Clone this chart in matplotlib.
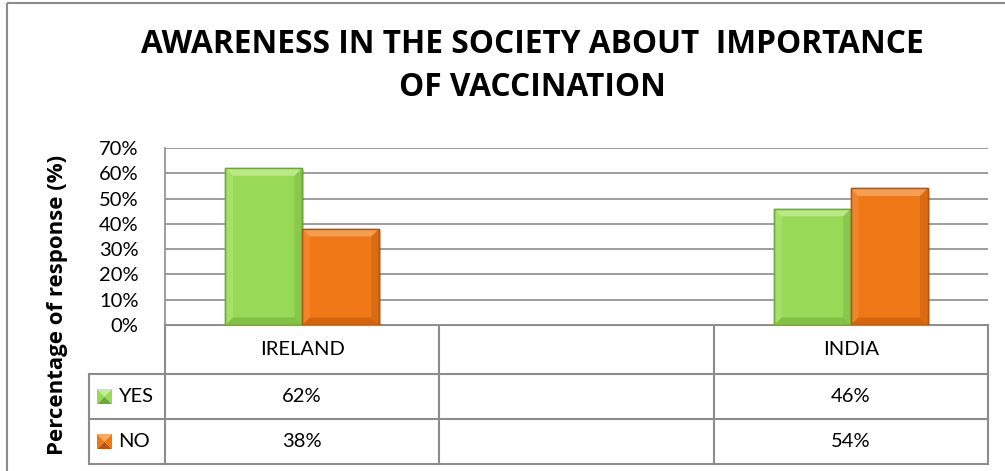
import matplotlib.pyplot as plt
from matplotlib.patches import Rectangle, Polygon
import numpy as np

# data
categories = ['IRELAND', '', 'INDIA']
series = ['YES', 'NO']
yes_vals = [62, None, 46]
no_vals = [38, None, 54]
yticks = [0, 10, 20, 30, 40, 50, 60, 70]
title = 'AWARENESS IN THE SOCIETY ABOUT  IMPORTANCE\nOF VACCINATION'
ylabel = 'Percentage of response (%)'

colors = {'YES': ('#98DA58', '#C4EE94', '#6FA83A'),
          'NO': ('#F07716', '#F8A860', '#B45710')}
grid_col = '#8C8C8C'

W, H = 1005, 471
plt.rcParams['font.family'] = ['Lato', 'DejaVu Sans']
fig = plt.figure(figsize=(W / 100, H / 100), dpi=100)

# pixel layout
L, R, T, B = 165, 988, 148, 325
rows = [325, 374, 419, 464]
key_left = 89


def fx(px):
    return px / W


def fy(py):
    return 1 - py / H


# overlay in pixel coords for the table, border, texts
ov = fig.add_axes([0, 0, 1, 1])
ov.set_xlim(0, W)
ov.set_ylim(H, 0)
ov.axis('off')

ax = fig.add_axes([fx(L), fy(B), fx(R) - fx(L), fy(T) - fy(B)])
ncat = len(categories)
ax.set_xlim(0, ncat)
ax.set_ylim(0, 70)
ax.set_yticks(yticks)
ax.set_yticklabels([f'{v}%' for v in yticks], fontsize=14.5)
ax.tick_params(axis='y', length=0, pad=19)
ax.set_xticks([])
ax.yaxis.grid(True, color=grid_col, lw=1.2)
ax.set_axisbelow(True)
for s in ['top', 'right']:
    ax.spines[s].set_visible(False)
for s in ['left', 'bottom']:
    ax.spines[s].set_color(grid_col)
    ax.spines[s].set_linewidth(1.2)

bw = 0.28
x = np.arange(ncat) + 0.5
dx = 0.028
dy = 3.0


def bevel_bar(xc, h, cols):
    face, light, dark = cols
    x0, x1 = xc - bw / 2, xc + bw / 2
    # shadow
    ax.add_patch(Rectangle((x0 + 0.008, -0.8), bw, h, color='#000000', alpha=0.12, lw=0, zorder=2))
    ax.add_patch(Rectangle((x0, 0), bw, h, facecolor=face, edgecolor=dark, lw=1, zorder=3))
    ax.add_patch(Polygon([(x0, h), (x1, h), (x1 - dx, h - dy), (x0 + dx, h - dy)],
                         closed=True, facecolor=light, lw=0, alpha=0.8, zorder=4))
    ax.add_patch(Polygon([(x0, 0), (x1, 0), (x1 - dx, dy), (x0 + dx, dy)],
                         closed=True, facecolor=dark, lw=0, alpha=0.5, zorder=4))
    ax.add_patch(Polygon([(x1, 0), (x1, h), (x1 - dx, h - dy), (x1 - dx, dy)],
                         closed=True, facecolor=dark, lw=0, alpha=0.35, zorder=4))
    ax.add_patch(Polygon([(x0, 0), (x0, h), (x0 + dx, h - dy), (x0 + dx, dy)],
                         closed=True, facecolor=light, lw=0, alpha=0.3, zorder=4))
    ax.add_patch(Rectangle((x0, 0), bw, h, facecolor='none', edgecolor=dark, lw=1, zorder=5))


for i in range(ncat):
    if yes_vals[i] is not None:
        bevel_bar(x[i] - bw / 2, yes_vals[i], colors['YES'])
    if no_vals[i] is not None:
        bevel_bar(x[i] + bw / 2, no_vals[i], colors['NO'])

# table
cw = (R - L) / ncat
cols_px = [L + i * cw for i in range(ncat + 1)]
lkw = dict(color=grid_col, lw=1.5)
ov.plot([L, R], [rows[0], rows[0]], **lkw)
for r in rows[1:]:
    ov.plot([key_left, R], [r, r], **lkw)
for c in cols_px:
    ov.plot([c, c], [rows[0], rows[-1]], **lkw)
ov.plot([key_left, key_left], [rows[1], rows[-1]], **lkw)

fs = 14.5
for i, cat in enumerate(categories):
    xc = L + (i + 0.5) * cw
    ov.text(xc, (rows[0] + rows[1]) / 2, cat, ha='center', va='center', fontsize=fs)
    for j, vals in enumerate([yes_vals, no_vals]):
        if vals[i] is not None:
            ov.text(xc, (rows[j + 1] + rows[j + 2]) / 2, f'{vals[i]}%',
                    ha='center', va='center', fontsize=fs)

# legend keys in table
for j, name in enumerate(series):
    face, light, dark = colors[name]
    yc = (rows[j + 1] + rows[j + 2]) / 2
    k0, k1 = 97, 112
    t0, t1 = yc - 7.5, yc + 7.5
    cx, cy = (k0 + k1) / 2, yc
    ov.add_patch(Polygon([(k0, t0), (k1, t0), (cx, cy)], facecolor=light, lw=0))
    ov.add_patch(Polygon([(k0, t1), (k1, t1), (cx, cy)], facecolor=dark, lw=0))
    ov.add_patch(Polygon([(k0, t0), (k0, t1), (cx, cy)], facecolor=face, lw=0))
    ov.add_patch(Polygon([(k1, t0), (k1, t1), (cx, cy)], facecolor=face, lw=0))
    ov.text(118, yc, name, ha='left', va='center', fontsize=fs)

# titles
bold = ['Open Sans', 'DejaVu Sans']
ov.text(532, 66, title, ha='center', va='center', fontsize=22.8, fontweight='bold',
        linespacing=1.38, family=bold)
ov.text(57, 305, ylabel, ha='center', va='center', rotation=90, fontsize=16,
        fontweight='bold', family=bold)

# chart border
ov.add_patch(Rectangle((7, 3), 1200, 800, facecolor='none', edgecolor='#8C8C8C', lw=1.5,
                       clip_on=False))

fig.savefig('out.png', dpi=100)
